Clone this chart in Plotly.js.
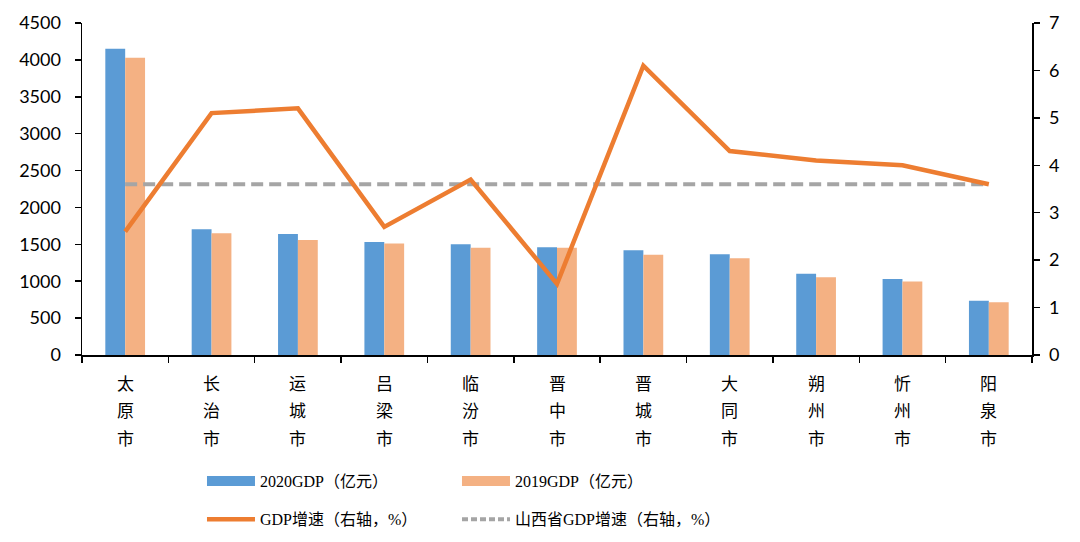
<!DOCTYPE html>
<html>
<head>
<meta charset="utf-8">
<script src="https://cdn.plot.ly/plotly-3.0.1.min.js"></script>
<style>html,body{margin:0;padding:0;background:#fff;}#chart{width:1080px;height:542px;}</style>
</head>
<body>
<div id="chart"></div>
<script>
const cities = ["太原市","长治市","运城市","吕梁市","临汾市","晋中市","晋城市","大同市","朔州市","忻州市","阳泉市"];
const gdp2020 = [4150, 1705, 1640, 1530, 1500, 1460, 1420, 1365, 1100, 1030, 735];
const gdp2019 = [4028, 1650, 1560, 1510, 1452, 1455, 1358, 1312, 1055, 995, 715];
const growth = [2.6, 5.1, 5.2, 2.7, 3.7, 1.5, 6.1, 4.3, 4.1, 4.0, 3.6];
const provinceGrowth = [3.6, 3.6, 3.6, 3.6, 3.6, 3.6, 3.6, 3.6, 3.6, 3.6, 3.6];
const names = ["2020GDP（亿元）","2019GDP（亿元）","GDP增速（右轴，%）","山西省GDP增速（右轴，%）"];

const cBlue = "#5B9BD5", cPeach = "#F4B183", cOrange = "#ED7D31", cGray = "#A5A5A5";

const traces = [
  {type:"bar", x:cities, y:gdp2020, name:names[0], marker:{color:cBlue}, showlegend:false},
  {type:"bar", x:cities, y:gdp2019, name:names[1], marker:{color:cPeach}, showlegend:false},
  {type:"scatter", mode:"lines", x:cities, y:provinceGrowth, yaxis:"y2", name:names[3],
   line:{color:cGray, width:4, dash:"12px,6px"}, showlegend:false},
  {type:"scatter", mode:"lines", x:cities, y:growth, yaxis:"y2", name:names[2],
   line:{color:cOrange, width:4.5}, showlegend:false},
  // legend entries
  {type:"scatter", mode:"lines", x:[null], y:[null], name:names[0], line:{color:cBlue, width:10}, legend:"legend"},
  {type:"scatter", mode:"lines", x:[null], y:[null], name:names[1], line:{color:cPeach, width:10}, legend:"legend"},
  {type:"scatter", mode:"lines", x:[null], y:[null], name:names[2], line:{color:cOrange, width:4.5}, legend:"legend2"},
  {type:"scatter", mode:"lines", x:[null], y:[null], name:names[3], line:{color:cGray, width:4, dash:"6px,3px"}, legend:"legend2"}
];

// vertical category labels: one annotation per character, stacked under each category
const labelAnnotations = [];
cities.forEach(c => {
  c.split("").forEach((ch, i) => {
    labelAnnotations.push({
      x:c, xref:"x", y:0, yref:"paper", yanchor:"middle", xanchor:"center",
      yshift:-(27 + i*27.5), text:ch, showarrow:false,
      font:{family:"'Noto Sans CJK SC', sans-serif", size:17, color:"#000"}
    });
  });
});

const tickFont = {family:"Lato, 'Liberation Sans', sans-serif", size:18, color:"#000"};
const legFont = {family:"'Liberation Serif', 'Noto Sans CJK SC', serif", size:16, color:"#000"};

const layout = {
  width:1080, height:542,
  margin:{l:82, r:48, t:23, b:187, autoexpand:false},
  paper_bgcolor:"#fff", plot_bgcolor:"#fff",
  barmode:"group", bargap:0.54, bargroupgap:0,
  xaxis:{
    type:"category", showticklabels:false,
    tickson:"boundaries", ticks:"outside", ticklen:6, tickcolor:"#000", tickwidth:1.5,
    showline:true, linecolor:"#000", linewidth:1.5, showgrid:false, zeroline:false
  },
  yaxis:{
    range:[0,4500], dtick:500, tick0:0, showgrid:false, zeroline:false,
    showline:true, linecolor:"#000", linewidth:1.5, ticks:"outside", ticklen:6,
    tickcolor:"#000", tickwidth:1.5, tickfont:tickFont, ticklabelstandoff:10
  },
  yaxis2:{
    range:[0,7], dtick:1, tick0:0, overlaying:"y", side:"right", showgrid:false, zeroline:false,
    showline:true, linecolor:"#000", linewidth:1.5, ticks:"outside", ticklen:6,
    tickcolor:"#000", tickwidth:1.5, tickfont:tickFont, ticklabelstandoff:6
  },
  annotations:labelAnnotations,
  legend:{orientation:"h", x:0.1263, y:-0.38, xanchor:"left", yanchor:"middle",
    entrywidth:192, entrywidthmode:"pixels", itemwidth:48, font:legFont, bgcolor:"rgba(0,0,0,0)"},
  legend2:{orientation:"h", x:0.1263, y:-0.495, xanchor:"left", yanchor:"middle",
    entrywidth:192, entrywidthmode:"pixels", itemwidth:48, font:legFont, bgcolor:"rgba(0,0,0,0)"},
  showlegend:true
};

Plotly.newPlot("chart", traces, layout, {staticPlot:true, displayModeBar:false});
</script>
</body>
</html>
